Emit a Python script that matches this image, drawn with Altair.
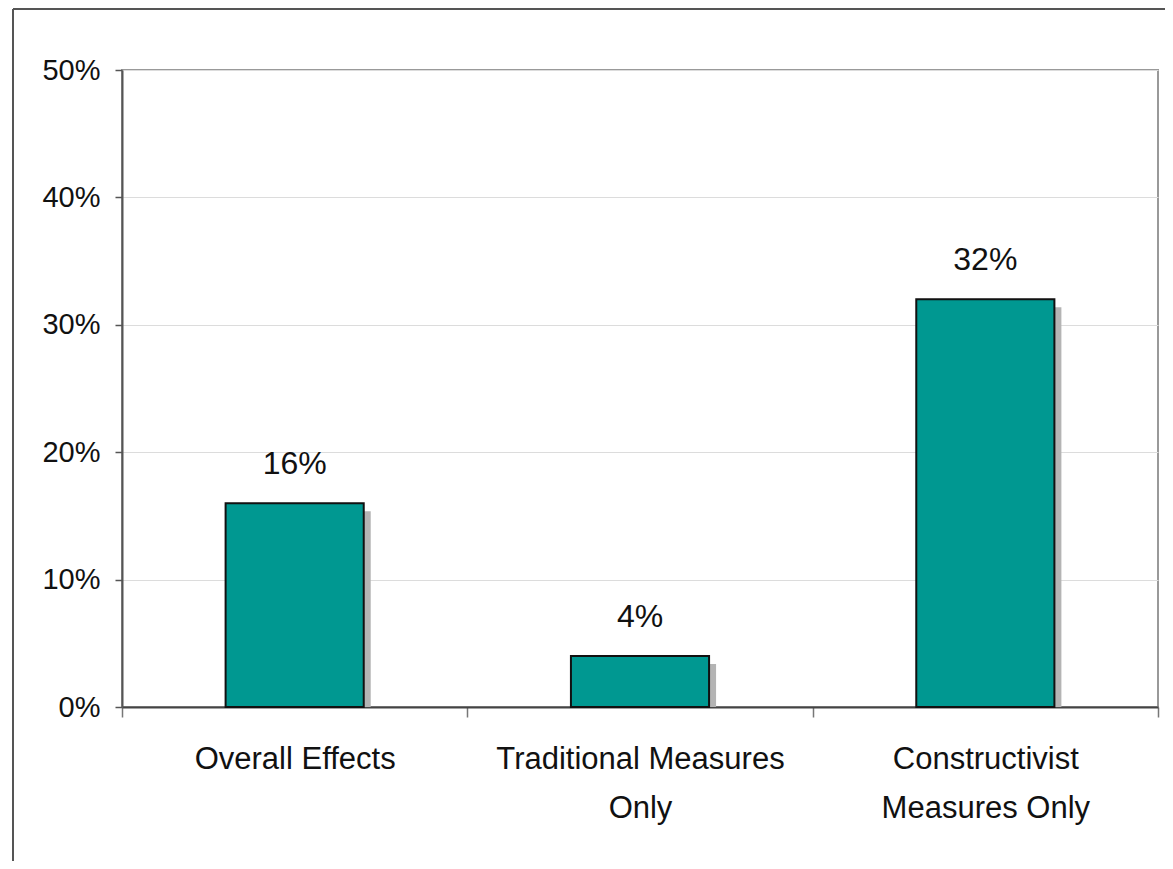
import altair as alt
import pandas as pd

categories = ["Overall Effects", "Traditional Measures\nOnly", "Constructivist\nMeasures Only"]
values = [0.16, 0.04, 0.32]
value_labels = ["16%", "4%", "32%"]

df = pd.DataFrame({"cat": categories, "val": values, "lab": value_labels})

FONT = "Liberation Sans, Arial"
W, H = 1036, 637

x = alt.X("cat:N", sort=None, title=None,
          scale=alt.Scale(paddingInner=0, paddingOuter=0),
          axis=alt.Axis(labelAngle=0, labelFont=FONT, labelFontSize=31, labelColor="#111",
                        labelLineHeight=49, labelPadding=27, labelLimit=0, tickSize=10,
                        tickColor="#777", tickWidth=1.5, tickBand="extent", domainColor="#444",
                        domainWidth=2, grid=False, labelExpr="split(datum.label, '\\n')"))
y = alt.Y("val:Q", title=None,
          scale=alt.Scale(domain=[0, 0.5], nice=False),
          axis=alt.Axis(format="%", values=[0, 0.1, 0.2, 0.3, 0.4, 0.5], labelFont=FONT,
                        labelFontSize=29, labelColor="#111", labelPadding=15, tickSize=7,
                        tickColor="#555", tickWidth=1.5, domainColor="#555", domainWidth=2,
                        grid=True, gridColor="#dcdcdc", gridWidth=1))

base = alt.Chart(df)

shadow = base.mark_bar(color="#b4b4b4", width=alt.RelativeBandSize(0.4),
                       xOffset=7, yOffset=8, clip=True).encode(x=x, y=y)
bars = base.mark_bar(color="#009891", stroke="#111", strokeWidth=2,
                     width=alt.RelativeBandSize(0.4)).encode(x=x, y=y)
labels = base.mark_text(font=FONT, fontSize=32, color="#111", baseline="alphabetic",
                        dy=-29).encode(x=x, y=y, text="lab:N")

frame_top = alt.Chart(pd.DataFrame({"a": [0]})).mark_rule(color="#555", strokeWidth=2).encode(
    x=alt.value(-109), x2=alt.value(W + 10), y=alt.value(-61))
frame_left = alt.Chart(pd.DataFrame({"a": [0]})).mark_rule(color="#555", strokeWidth=2).encode(
    x=alt.value(-109), y=alt.value(-61), y2=alt.value(H + 160))

chart = alt.layer(shadow, bars, labels, frame_top, frame_left).properties(
    width=W, height=H,
    autosize=alt.AutoSizeParams(type="none"),
    padding={"left": 114, "top": 62, "right": 7, "bottom": 154},
    background="white",
).configure_view(stroke="#999", strokeWidth=2)

chart.save("out.html", embed_options={"renderer": "svg", "actions": False})
